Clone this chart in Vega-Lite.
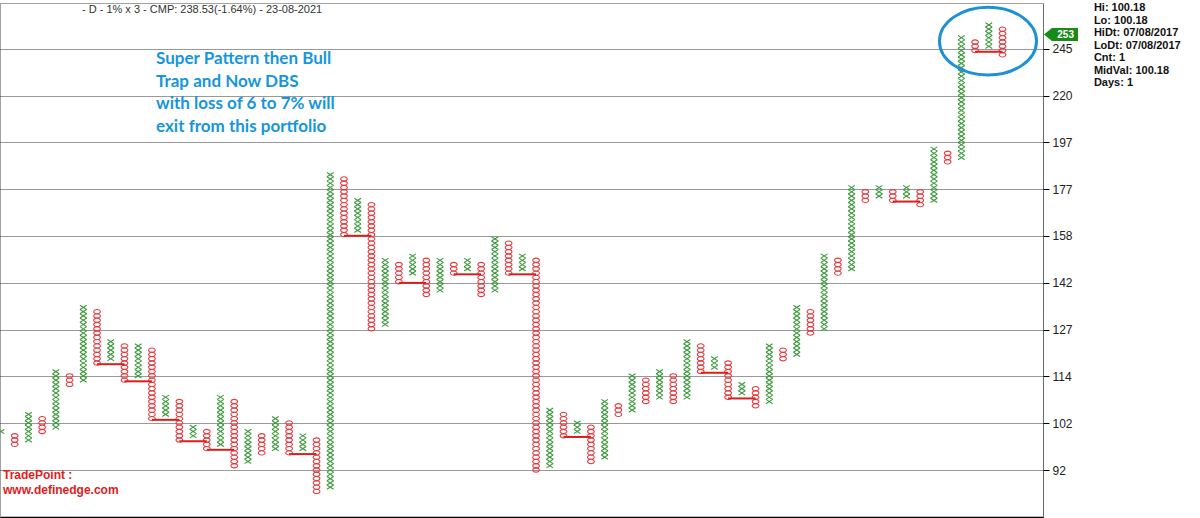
{
  "$schema": "https://vega.github.io/schema/vega-lite/v6.json",
  "width": 1043,
  "height": 514,
  "autosize": "none",
  "padding": {"left": 0, "top": 3, "right": 157, "bottom": 1},
  "background": "white",
  "config": {
    "view": {"stroke": "#444", "strokeDash": [1, 1], "strokeWidth": 1},
    "font": "Liberation Sans"
  },
  "layer": [
    {
      "data": {"values": [
        {"col": 0, "type": "X", "lvl": [9]},
        {"col": 1, "type": "O", "lvl": [6,7,8]},
        {"col": 2, "type": "X", "lvl": [7,8,9,10,11,12,13]},
        {"col": 3, "type": "O", "lvl": [9,10,11,12]},
        {"col": 4, "type": "X", "lvl": [10,11,12,13,14,15,16,17,18,19,20,21,22,23]},
        {"col": 5, "type": "O", "lvl": [20,21,22]},
        {"col": 6, "type": "X", "lvl": [21,22,23,24,25,26,27,28,29,30,31,32,33,34,35,36,37,38]},
        {"col": 7, "type": "O", "lvl": [25,26,27,28,29,30,31,32,33,34,35,36,37]},
        {"col": 8, "type": "X", "lvl": [26,27,28,29,30]},
        {"col": 9, "type": "O", "lvl": [21,22,23,24,25,26,27,28,29]},
        {"col": 10, "type": "X", "lvl": [22,23,24,25,26,27,28,29]},
        {"col": 11, "type": "O", "lvl": [12,13,14,15,16,17,18,19,20,21,22,23,24,25,26,27,28]},
        {"col": 12, "type": "X", "lvl": [13,14,15,16,17]},
        {"col": 13, "type": "O", "lvl": [7,8,9,10,11,12,13,14,15,16]},
        {"col": 14, "type": "X", "lvl": [8,9,10]},
        {"col": 15, "type": "O", "lvl": [5,6,7,8,9]},
        {"col": 16, "type": "X", "lvl": [6,7,8,9,10,11,12,13,14,15,16,17]},
        {"col": 17, "type": "O", "lvl": [1,2,3,4,5,6,7,8,9,10,11,12,13,14,15,16]},
        {"col": 18, "type": "X", "lvl": [2,3,4,5,6,7,8,9]},
        {"col": 19, "type": "O", "lvl": [4,5,6,7,8]},
        {"col": 20, "type": "X", "lvl": [5,6,7,8,9,10,11,12]},
        {"col": 21, "type": "O", "lvl": [4,5,6,7,8,9,10,11]},
        {"col": 22, "type": "X", "lvl": [5,6,7,8]},
        {"col": 23, "type": "O", "lvl": [-5,-4,-3,-2,-1,0,1,2,3,4,5,6,7]},
        {"col": 24, "type": "X", "lvl": [-4,-3,-2,-1,0,1,2,3,4,5,6,7,8,9,10,11,12,13,14,15,16,17,18,19,20,21,22,23,24,25,26,27,28,29,30,31,32,33,34,35,36,37,38,39,40,41,42,43,44,45,46,47,48,49,50,51,52,53,54,55,56,57,58,59,60,61,62,63,64,65,66,67,68,69]},
        {"col": 25, "type": "O", "lvl": [55,56,57,58,59,60,61,62,63,64,65,66,67,68]},
        {"col": 26, "type": "X", "lvl": [56,57,58,59,60,61,62,63]},
        {"col": 27, "type": "O", "lvl": [33,34,35,36,37,38,39,40,41,42,43,44,45,46,47,48,49,50,51,52,53,54,55,56,57,58,59,60,61,62]},
        {"col": 28, "type": "X", "lvl": [34,35,36,37,38,39,40,41,42,43,44,45,46,47,48,49]},
        {"col": 29, "type": "O", "lvl": [44,45,46,47,48]},
        {"col": 30, "type": "X", "lvl": [46,47,48,49,50]},
        {"col": 31, "type": "O", "lvl": [41,42,43,44,45,46,47,48,49]},
        {"col": 32, "type": "X", "lvl": [42,43,44,45,46,47,48,49]},
        {"col": 33, "type": "O", "lvl": [46,47,48]},
        {"col": 34, "type": "X", "lvl": [47,48,49]},
        {"col": 35, "type": "O", "lvl": [41,42,43,44,45,46,47,48]},
        {"col": 36, "type": "X", "lvl": [42,43,44,45,46,47,48,49,50,51,52,53,54]},
        {"col": 37, "type": "O", "lvl": [46,47,48,49,50,51,52,53]},
        {"col": 38, "type": "X", "lvl": [47,48,49,50]},
        {"col": 39, "type": "O", "lvl": [0,1,2,3,4,5,6,7,8,9,10,11,12,13,14,15,16,17,18,19,20,21,22,23,24,25,26,27,28,29,30,31,32,33,34,35,36,37,38,39,40,41,42,43,44,45,46,47,48,49]},
        {"col": 40, "type": "X", "lvl": [1,2,3,4,5,6,7,8,9,10,11,12,13,14]},
        {"col": 41, "type": "O", "lvl": [8,9,10,11,12,13]},
        {"col": 42, "type": "X", "lvl": [9,10,11]},
        {"col": 43, "type": "O", "lvl": [2,3,4,5,6,7,8,9,10]},
        {"col": 44, "type": "X", "lvl": [3,4,5,6,7,8,9,10,11,12,13,14,15,16]},
        {"col": 45, "type": "O", "lvl": [13,14,15]},
        {"col": 46, "type": "X", "lvl": [14,15,16,17,18,19,20,21,22]},
        {"col": 47, "type": "O", "lvl": [16,17,18,19,20,21]},
        {"col": 48, "type": "X", "lvl": [17,18,19,20,21,22,23]},
        {"col": 49, "type": "O", "lvl": [16,17,18,19,20,21,22]},
        {"col": 50, "type": "X", "lvl": [17,18,19,20,21,22,23,24,25,26,27,28,29,30]},
        {"col": 51, "type": "O", "lvl": [23,24,25,26,27,28,29]},
        {"col": 52, "type": "X", "lvl": [24,25,26]},
        {"col": 53, "type": "O", "lvl": [17,18,19,20,21,22,23,24,25]},
        {"col": 54, "type": "X", "lvl": [18,19,20]},
        {"col": 55, "type": "O", "lvl": [15,16,17,18,19]},
        {"col": 56, "type": "X", "lvl": [16,17,18,19,20,21,22,23,24,25,26,27,28,29]},
        {"col": 57, "type": "O", "lvl": [26,27,28]},
        {"col": 58, "type": "X", "lvl": [27,28,29,30,31,32,33,34,35,36,37,38]},
        {"col": 59, "type": "O", "lvl": [32,33,34,35,36,37]},
        {"col": 60, "type": "X", "lvl": [33,34,35,36,37,38,39,40,41,42,43,44,45,46,47,48,49,50]},
        {"col": 61, "type": "O", "lvl": [46,47,48,49]},
        {"col": 62, "type": "X", "lvl": [47,48,49,50,51,52,53,54,55,56,57,58,59,60,61,62,63,64,65,66]},
        {"col": 63, "type": "O", "lvl": [63,64,65]},
        {"col": 64, "type": "X", "lvl": [64,65,66]},
        {"col": 65, "type": "O", "lvl": [63,64,65]},
        {"col": 66, "type": "X", "lvl": [64,65,66]},
        {"col": 67, "type": "O", "lvl": [62,63,64,65]},
        {"col": 68, "type": "X", "lvl": [63,64,65,66,67,68,69,70,71,72,73,74,75]},
        {"col": 69, "type": "O", "lvl": [72,73,74]},
        {"col": 70, "type": "X", "lvl": [73,74,75,76,77,78,79,80,81,82,83,84,85,86,87,88,89,90,91,92,93,94,95,96,97,98,99,100,101]},
        {"col": 71, "type": "O", "lvl": [98,99,100]},
        {"col": 72, "type": "X", "lvl": [99,100,101,102,103,104]},
        {"col": 73, "type": "O", "lvl": [97,98,99,100,101,102,103]}
      ]},
      "transform": [{"flatten": ["lvl"]}],
      "mark": {"type": "point", "filled": false, "strokeWidth": 1.1, "size": 45, "opacity": 1},
      "encoding": {
        "x": {"field": "col", "type": "quantitative", "scale": {"domain": [-0.073, 75.95], "nice": false, "zero": false},
          "axis": {"orient": "bottom", "title": null, "ticks": false, "labels": false, "grid": false, "domainColor": "#000", "domainWidth": 1.5}},
        "y": {"field": "lvl", "type": "quantitative", "scale": {"domain": [-10.98, 109.11], "nice": false, "zero": false},
          "axis": {"orient": "right", "title": null, "values": [0, 10.935, 21.87, 32.805, 43.74, 54.675, 65.61, 76.545, 87.48, 98.415],
            "labelExpr": "datum.value < 5 ? '92' : datum.value < 16 ? '102' : datum.value < 27 ? '114' : datum.value < 38 ? '127' : datum.value < 49 ? '142' : datum.value < 60 ? '158' : datum.value < 71 ? '177' : datum.value < 82 ? '197' : datum.value < 93 ? '220' : '245'",
            "grid": true, "gridDash": [1, 1], "gridColor": "#333", "gridWidth": 1,
            "domainDash": [1, 1], "domainColor": "#333", "tickColor": "#000", "tickSize": 6,
            "labelFontSize": 12, "labelColor": "#222", "labelFont": "Liberation Sans", "labelPadding": 3, "labelOverlap": false, "labelFlush": false}},
        "color": {"field": "type", "type": "nominal", "scale": {"domain": ["X", "O"], "range": ["#3c9a3c", "#e23a3f"]}, "legend": null},
        "shape": {"field": "type", "type": "nominal", "scale": {"domain": ["X", "O"], "range": ["M-1,-0.64L1,0.64M-1,0.64L1,-0.64", "M-1,0A1,0.64 0 1,1 1,0A1,0.64 0 1,1 -1,0Z"]}, "legend": null}
      }
    },
    {
      "data": {"values": [
        {"from": 7, "to": 9, "level": 25},
        {"from": 9, "to": 11, "level": 21},
        {"from": 11, "to": 13, "level": 12},
        {"from": 13, "to": 15, "level": 7},
        {"from": 15, "to": 17, "level": 5},
        {"from": 21, "to": 23, "level": 4},
        {"from": 25, "to": 27, "level": 55},
        {"from": 29, "to": 31, "level": 44},
        {"from": 33, "to": 35, "level": 46},
        {"from": 37, "to": 39, "level": 46},
        {"from": 41, "to": 43, "level": 8},
        {"from": 51, "to": 53, "level": 23},
        {"from": 53, "to": 55, "level": 17},
        {"from": 65, "to": 67, "level": 63},
        {"from": 71, "to": 73, "level": 98}
      ]},
      "mark": {"type": "rule", "color": "#dd1c1c", "strokeWidth": 2, "yOffset": 1.2},
      "encoding": {
        "x": {"field": "from", "type": "quantitative", "title": null},
        "x2": {"field": "to"},
        "y": {"field": "level", "type": "quantitative", "title": null}
      }
    },
    {
      "data": {"values": [{}]},
      "mark": {"type": "point", "shape": "M-1,0A1,0.7 0 1,1 1,0A1,0.7 0 1,1 -1,0Z", "filled": false, "stroke": "#1e90d8", "strokeWidth": 3, "size": 9409, "opacity": 1},
      "encoding": {
        "x": {"datum": 71.94, "type": "quantitative", "title": null},
        "y": {"datum": 100.2, "type": "quantitative", "title": null}
      }
    },
    {
      "data": {"values": [{}]},
      "mark": {"type": "point", "shape": "M-1,0L-0.53,-0.38L1,-0.38L1,0.38L-0.53,0.38Z", "filled": true, "fill": "#178a17", "size": 1156, "opacity": 1},
      "encoding": {
        "x": {"datum": 77.26, "type": "quantitative", "title": null},
        "y": {"datum": 101.75, "type": "quantitative", "title": null}
      }
    },
    {
      "data": {"values": [{}]},
      "mark": {"type": "text", "text": "253", "font": "Liberation Sans", "fontSize": 10, "fontWeight": "bold", "color": "white", "align": "center", "baseline": "middle"},
      "encoding": {
        "x": {"datum": 77.6, "type": "quantitative", "title": null},
        "y": {"datum": 101.75, "type": "quantitative", "title": null}
      }
    },
    {
      "data": {"values": [{}]},
      "mark": {"type": "text", "text": "- D - 1% x 3 - CMP: 238.53(-1.64%) - 23-08-2021", "font": "Liberation Sans", "fontSize": 11, "color": "#333", "align": "left", "baseline": "middle"},
      "encoding": {
        "x": {"datum": 5.9, "type": "quantitative", "title": null},
        "y": {"datum": 107.48, "type": "quantitative", "title": null}
      }
    },
    {
      "data": {"values": [{}]},
      "mark": {"type": "text", "text": ["Super Pattern then Bull", "Trap and Now DBS", "with loss of 6 to 7% will", "exit from this portfolio"], "lineHeight": 22.6, "font": "Lato", "fontSize": 17, "fontWeight": "bold", "color": "#1596dc", "align": "left", "baseline": "middle"},
      "encoding": {
        "x": {"datum": 11.3, "type": "quantitative", "title": null},
        "y": {"datum": 96.0, "type": "quantitative", "title": null}
      }
    },
    {
      "data": {"values": [{}]},
      "mark": {"type": "text", "text": ["TradePoint :", "www.definedge.com"], "lineHeight": 15, "font": "Liberation Sans", "fontSize": 12, "fontWeight": "bold", "color": "#e0201c", "align": "left", "baseline": "middle"},
      "encoding": {
        "x": {"datum": 0.146, "type": "quantitative", "title": null},
        "y": {"datum": -1.17, "type": "quantitative", "title": null}
      }
    },
    {
      "data": {"values": [{}]},
      "mark": {"type": "text", "text": ["Hi: 100.18", "Lo: 100.18", "HiDt: 07/08/2017", "LoDt: 07/08/2017", "Cnt: 1", "MidVal: 100.18", "Days: 1"], "lineHeight": 12.5, "font": "Liberation Sans", "fontSize": 11, "fontWeight": "bold", "color": "#111", "align": "left", "baseline": "middle"},
      "encoding": {
        "x": {"datum": 79.66, "type": "quantitative", "title": null},
        "y": {"datum": 107.87, "type": "quantitative", "title": null}
      }
    }
  ]
}
